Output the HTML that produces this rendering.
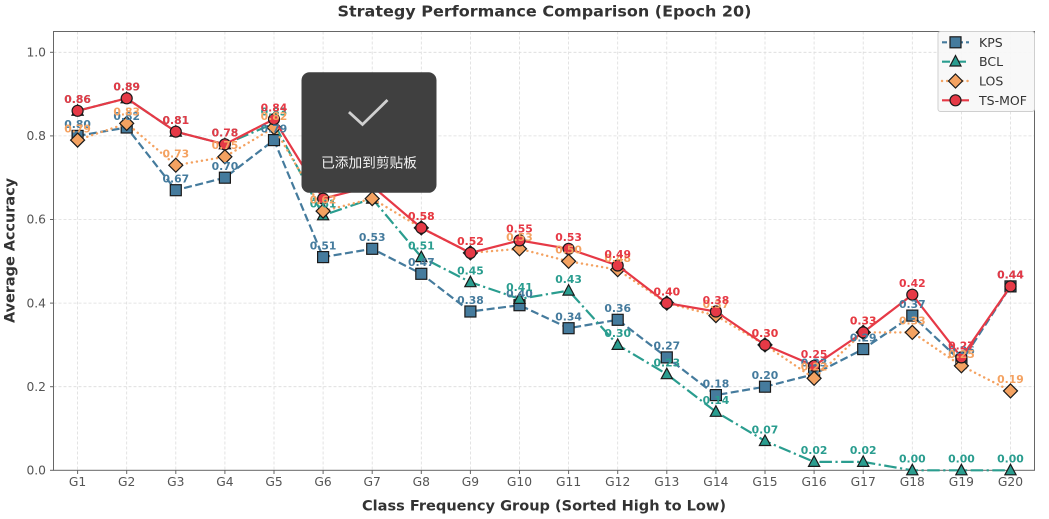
<!DOCTYPE html>
<html><head><meta charset="utf-8"><style>
html,body{margin:0;padding:0;background:#fff;}
svg{display:block;}
.tk{font-family:"DejaVu Sans","Liberation Sans",sans-serif;font-size:12.3px;fill:#555;}
.lb{font-family:"DejaVu Sans","Liberation Sans",sans-serif;font-size:10.8px;font-weight:bold;text-anchor:middle;}
</style></head><body>
<svg width="1049" height="519" viewBox="0 0 1049 519" xmlns="http://www.w3.org/2000/svg">
<rect width="1049" height="519" fill="#fff"/>
<!-- grid -->
<g stroke="#dcdcdc" stroke-width="0.8" stroke-dasharray="3,2">
<line x1="53.5" x2="1034.5" y1="386.7" y2="386.7"/>
<line x1="53.5" x2="1034.5" y1="303.1" y2="303.1"/>
<line x1="53.5" x2="1034.5" y1="219.5" y2="219.5"/>
<line x1="53.5" x2="1034.5" y1="135.9" y2="135.9"/>
<line x1="53.5" x2="1034.5" y1="52.3" y2="52.3"/>
<line x1="77.6" x2="77.6" y1="31.5" y2="470.3"/>
<line x1="126.7" x2="126.7" y1="31.5" y2="470.3"/>
<line x1="175.8" x2="175.8" y1="31.5" y2="470.3"/>
<line x1="224.9" x2="224.9" y1="31.5" y2="470.3"/>
<line x1="274.0" x2="274.0" y1="31.5" y2="470.3"/>
<line x1="323.1" x2="323.1" y1="31.5" y2="470.3"/>
<line x1="372.2" x2="372.2" y1="31.5" y2="470.3"/>
<line x1="421.3" x2="421.3" y1="31.5" y2="470.3"/>
<line x1="470.4" x2="470.4" y1="31.5" y2="470.3"/>
<line x1="519.5" x2="519.5" y1="31.5" y2="470.3"/>
<line x1="568.6" x2="568.6" y1="31.5" y2="470.3"/>
<line x1="617.7" x2="617.7" y1="31.5" y2="470.3"/>
<line x1="666.8" x2="666.8" y1="31.5" y2="470.3"/>
<line x1="715.9" x2="715.9" y1="31.5" y2="470.3"/>
<line x1="765.0" x2="765.0" y1="31.5" y2="470.3"/>
<line x1="814.1" x2="814.1" y1="31.5" y2="470.3"/>
<line x1="863.2" x2="863.2" y1="31.5" y2="470.3"/>
<line x1="912.3" x2="912.3" y1="31.5" y2="470.3"/>
<line x1="961.4" x2="961.4" y1="31.5" y2="470.3"/>
<line x1="1010.5" x2="1010.5" y1="31.5" y2="470.3"/>
</g>
<!-- spines -->
<rect x="53.5" y="31.5" width="981" height="438.8" fill="none" stroke="#666" stroke-width="1"/>
<!-- ticks -->
<g stroke="#666" stroke-width="1">
<line x1="50" x2="53.5" y1="470.3" y2="470.3"/><line x1="50" x2="53.5" y1="386.7" y2="386.7"/><line x1="50" x2="53.5" y1="303.1" y2="303.1"/><line x1="50" x2="53.5" y1="219.5" y2="219.5"/><line x1="50" x2="53.5" y1="135.9" y2="135.9"/><line x1="50" x2="53.5" y1="52.3" y2="52.3"/>
<line x1="77.6" x2="77.6" y1="470.3" y2="474"/><line x1="126.7" x2="126.7" y1="470.3" y2="474"/><line x1="175.8" x2="175.8" y1="470.3" y2="474"/><line x1="224.9" x2="224.9" y1="470.3" y2="474"/><line x1="274.0" x2="274.0" y1="470.3" y2="474"/><line x1="323.1" x2="323.1" y1="470.3" y2="474"/><line x1="372.2" x2="372.2" y1="470.3" y2="474"/><line x1="421.3" x2="421.3" y1="470.3" y2="474"/><line x1="470.4" x2="470.4" y1="470.3" y2="474"/><line x1="519.5" x2="519.5" y1="470.3" y2="474"/><line x1="568.6" x2="568.6" y1="470.3" y2="474"/><line x1="617.7" x2="617.7" y1="470.3" y2="474"/><line x1="666.8" x2="666.8" y1="470.3" y2="474"/><line x1="715.9" x2="715.9" y1="470.3" y2="474"/><line x1="765.0" x2="765.0" y1="470.3" y2="474"/><line x1="814.1" x2="814.1" y1="470.3" y2="474"/><line x1="863.2" x2="863.2" y1="470.3" y2="474"/><line x1="912.3" x2="912.3" y1="470.3" y2="474"/><line x1="961.4" x2="961.4" y1="470.3" y2="474"/><line x1="1010.5" x2="1010.5" y1="470.3" y2="474"/>
</g>
<g class="tk" text-anchor="end">
<text x="46" y="474.5">0.0</text><text x="46" y="390.9">0.2</text><text x="46" y="307.3">0.4</text><text x="46" y="223.7">0.6</text><text x="46" y="140.1">0.8</text><text x="46" y="56.5">1.0</text>
</g>
<g class="tk" text-anchor="middle">
<text x="77.6" y="486">G1</text><text x="126.7" y="486">G2</text><text x="175.8" y="486">G3</text><text x="224.9" y="486">G4</text><text x="274.0" y="486">G5</text><text x="323.1" y="486">G6</text><text x="372.2" y="486">G7</text><text x="421.3" y="486">G8</text><text x="470.4" y="486">G9</text><text x="519.5" y="486">G10</text><text x="568.6" y="486">G11</text><text x="617.7" y="486">G12</text><text x="666.8" y="486">G13</text><text x="715.9" y="486">G14</text><text x="765.0" y="486">G15</text><text x="814.1" y="486">G16</text><text x="863.2" y="486">G17</text><text x="912.3" y="486">G18</text><text x="961.4" y="486">G19</text><text x="1010.5" y="486">G20</text>
</g>
<!-- titles -->
<text x="544.5" y="16.7" text-anchor="middle" font-family="DejaVu Sans, Liberation Sans, sans-serif" font-weight="bold" font-size="15" fill="#333" textLength="414" lengthAdjust="spacingAndGlyphs">Strategy Performance Comparison (Epoch 20)</text>
<text x="544" y="510.7" text-anchor="middle" font-family="DejaVu Sans, Liberation Sans, sans-serif" font-weight="bold" font-size="14.5" fill="#333" textLength="364" lengthAdjust="spacingAndGlyphs">Class Frequency Group (Sorted High to Low)</text>
<text transform="translate(14.5,250.5) rotate(-90)" text-anchor="middle" font-family="DejaVu Sans, Liberation Sans, sans-serif" font-weight="bold" font-size="14.5" fill="#333" textLength="145" lengthAdjust="spacingAndGlyphs">Average Accuracy</text>

<defs>
<rect id="sq" x="-5.5" y="-5.5" width="11" height="11" fill="#457b9d" stroke="#1a1a1a" stroke-width="1.2"/>
<path id="tri" d="M0,-6 L5.6,4.5 L-5.6,4.5 Z" fill="#2a9d8f" stroke="#1a1a1a" stroke-width="1.2"/>
<path id="dia" d="M0,-7 L7,0 L0,7 L-7,0 Z" fill="#f4a261" stroke="#1a1a1a" stroke-width="1.2"/>
<circle id="cir" r="5.5" fill="#e63946" stroke="#1a1a1a" stroke-width="1.2"/>
</defs>

<!-- KPS -->
<polyline fill="none" stroke="#457b9d" stroke-width="2.2" stroke-dasharray="8,3.5" points="77.6,135.9 126.7,127.5 175.8,190.2 224.9,177.7 274.0,140.1 323.1,257.1 372.2,248.8 421.3,273.8 470.4,311.5 519.5,305.2 568.6,328.2 617.7,319.8 666.8,357.4 715.9,395.1 765.0,386.7 814.1,374.2 863.2,349.1 912.3,315.6 961.4,361.6 1010.5,286.4"/>
<g>
<use href="#sq" x="77.6" y="135.9"/><use href="#sq" x="126.7" y="127.5"/><use href="#sq" x="175.8" y="190.2"/><use href="#sq" x="224.9" y="177.7"/><use href="#sq" x="274.0" y="140.1"/><use href="#sq" x="323.1" y="257.1"/><use href="#sq" x="372.2" y="248.8"/><use href="#sq" x="421.3" y="273.8"/><use href="#sq" x="470.4" y="311.5"/><use href="#sq" x="519.5" y="305.2"/><use href="#sq" x="568.6" y="328.2"/><use href="#sq" x="617.7" y="319.8"/><use href="#sq" x="666.8" y="357.4"/><use href="#sq" x="715.9" y="395.1"/><use href="#sq" x="765.0" y="386.7"/><use href="#sq" x="814.1" y="374.2"/><use href="#sq" x="863.2" y="349.1"/><use href="#sq" x="912.3" y="315.6"/><use href="#sq" x="961.4" y="361.6"/><use href="#sq" x="1010.5" y="286.4"/>
</g>
<!-- BCL -->
<polyline fill="none" stroke="#2a9d8f" stroke-width="2.2" stroke-dasharray="12.5,3.5,2.2,3.5" points="77.6,110.8 126.7,98.3 175.8,131.7 224.9,144.3 274.0,123.4 323.1,215.3 372.2,198.6 421.3,257.1 470.4,282.2 519.5,298.9 568.6,290.6 617.7,344.9 666.8,374.2 715.9,411.8 765.0,441.0 814.1,461.9 863.2,461.9 912.3,470.3 961.4,470.3 1010.5,470.3"/>
<g>
<use href="#tri" x="77.6" y="110.8"/><use href="#tri" x="126.7" y="98.3"/><use href="#tri" x="175.8" y="131.7"/><use href="#tri" x="224.9" y="144.3"/><use href="#tri" x="274.0" y="123.4"/><use href="#tri" x="323.1" y="215.3"/><use href="#tri" x="372.2" y="198.6"/><use href="#tri" x="421.3" y="257.1"/><use href="#tri" x="470.4" y="282.2"/><use href="#tri" x="519.5" y="298.9"/><use href="#tri" x="568.6" y="290.6"/><use href="#tri" x="617.7" y="344.9"/><use href="#tri" x="666.8" y="374.2"/><use href="#tri" x="715.9" y="411.8"/><use href="#tri" x="765.0" y="441.0"/><use href="#tri" x="814.1" y="461.9"/><use href="#tri" x="863.2" y="461.9"/><use href="#tri" x="912.3" y="470.3"/><use href="#tri" x="961.4" y="470.3"/><use href="#tri" x="1010.5" y="470.3"/>
</g>
<!-- LOS -->
<polyline fill="none" stroke="#f4a261" stroke-width="2.4" stroke-linecap="round" stroke-dasharray="0.1,5" points="77.6,140.1 126.7,123.4 175.8,165.2 224.9,156.8 274.0,127.5 323.1,211.1 372.2,198.6 421.3,227.9 470.4,252.9 519.5,248.8 568.6,261.3 617.7,269.7 666.8,303.1 715.9,315.6 765.0,344.9 814.1,378.3 863.2,332.4 912.3,332.4 961.4,365.8 1010.5,390.9"/>
<g>
<use href="#dia" x="77.6" y="140.1"/><use href="#dia" x="126.7" y="123.4"/><use href="#dia" x="175.8" y="165.2"/><use href="#dia" x="224.9" y="156.8"/><use href="#dia" x="274.0" y="127.5"/><use href="#dia" x="323.1" y="211.1"/><use href="#dia" x="372.2" y="198.6"/><use href="#dia" x="421.3" y="227.9"/><use href="#dia" x="470.4" y="252.9"/><use href="#dia" x="519.5" y="248.8"/><use href="#dia" x="568.6" y="261.3"/><use href="#dia" x="617.7" y="269.7"/><use href="#dia" x="666.8" y="303.1"/><use href="#dia" x="715.9" y="315.6"/><use href="#dia" x="765.0" y="344.9"/><use href="#dia" x="814.1" y="378.3"/><use href="#dia" x="863.2" y="332.4"/><use href="#dia" x="912.3" y="332.4"/><use href="#dia" x="961.4" y="365.8"/><use href="#dia" x="1010.5" y="390.9"/>
</g>
<!-- TS-MOF -->
<polyline fill="none" stroke="#e63946" stroke-width="2.2" points="77.6,110.8 126.7,98.3 175.8,131.7 224.9,144.3 274.0,119.2 323.1,198.6 372.2,186.1 421.3,227.9 470.4,252.9 519.5,240.4 568.6,248.8 617.7,265.5 666.8,303.1 715.9,311.5 765.0,344.9 814.1,365.8 863.2,332.4 912.3,294.7 961.4,357.4 1010.5,286.4"/>
<g>
<use href="#cir" x="77.6" y="110.8"/><use href="#cir" x="126.7" y="98.3"/><use href="#cir" x="175.8" y="131.7"/><use href="#cir" x="224.9" y="144.3"/><use href="#cir" x="274.0" y="119.2"/><use href="#cir" x="323.1" y="198.6"/><use href="#cir" x="372.2" y="186.1"/><use href="#cir" x="421.3" y="227.9"/><use href="#cir" x="470.4" y="252.9"/><use href="#cir" x="519.5" y="240.4"/><use href="#cir" x="568.6" y="248.8"/><use href="#cir" x="617.7" y="265.5"/><use href="#cir" x="666.8" y="303.1"/><use href="#cir" x="715.9" y="311.5"/><use href="#cir" x="765.0" y="344.9"/><use href="#cir" x="814.1" y="365.8"/><use href="#cir" x="863.2" y="332.4"/><use href="#cir" x="912.3" y="294.7"/><use href="#cir" x="961.4" y="357.4"/><use href="#cir" x="1010.5" y="286.4"/>
</g>

<!-- labels KPS -->
<g class="lb" fill="#457b9d">
<text x="77.6" y="128.2">0.80</text><text x="126.7" y="119.8">0.82</text><text x="175.8" y="182.5">0.67</text><text x="224.9" y="170">0.70</text><text x="274.0" y="132.4">0.79</text><text x="323.1" y="249.4">0.51</text><text x="372.2" y="241.1">0.53</text><text x="421.3" y="266.1">0.47</text><text x="470.4" y="303.8">0.38</text><text x="519.5" y="297.5">0.40</text><text x="568.6" y="320.5">0.34</text><text x="617.7" y="312.1">0.36</text><text x="666.8" y="349.7">0.27</text><text x="715.9" y="387.4">0.18</text><text x="765.0" y="379">0.20</text><text x="814.1" y="366.5">0.23</text><text x="863.2" y="341.4">0.29</text><text x="912.3" y="307.9">0.37</text><text x="961.4" y="353.9">0.26</text><text x="1010.5" y="278.7">0.44</text>
</g>
<g class="lb" fill="#2a9d8f">
<text x="77.6" y="103.1">0.86</text><text x="126.7" y="90.6">0.89</text><text x="175.8" y="124">0.81</text><text x="224.9" y="136.6">0.78</text><text x="274.0" y="115.7">0.83</text><text x="323.1" y="207.6">0.61</text><text x="372.2" y="190.9">0.65</text><text x="421.3" y="249.4">0.51</text><text x="470.4" y="274.5">0.45</text><text x="519.5" y="291.2">0.41</text><text x="568.6" y="282.9">0.43</text><text x="617.7" y="337.2">0.30</text><text x="666.8" y="366.5">0.23</text><text x="715.9" y="404.1">0.14</text><text x="765.0" y="433.3">0.07</text><text x="814.1" y="454.2">0.02</text><text x="863.2" y="454.2">0.02</text><text x="912.3" y="462.6">0.00</text><text x="961.4" y="462.6">0.00</text><text x="1010.5" y="462.6">0.00</text>
</g>
<g class="lb" fill="#f4a261">
<text x="77.6" y="132.4">0.79</text><text x="126.7" y="115.7">0.83</text><text x="175.8" y="157.5">0.73</text><text x="224.9" y="149.1">0.75</text><text x="274.0" y="119.8">0.82</text><text x="323.1" y="203.4">0.62</text><text x="372.2" y="190.9">0.65</text><text x="421.3" y="220.2">0.58</text><text x="470.4" y="245.2">0.52</text><text x="519.5" y="241.1">0.53</text><text x="568.6" y="253.6">0.50</text><text x="617.7" y="262">0.48</text><text x="666.8" y="295.4">0.40</text><text x="715.9" y="307.9">0.37</text><text x="765.0" y="337.2">0.30</text><text x="814.1" y="370.6">0.22</text><text x="863.2" y="324.7">0.33</text><text x="912.3" y="324.7">0.33</text><text x="961.4" y="358.1">0.25</text><text x="1010.5" y="383.2">0.19</text>
</g>
<g class="lb" fill="#e63946">
<text x="77.6" y="103.1">0.86</text><text x="126.7" y="90.6">0.89</text><text x="175.8" y="124">0.81</text><text x="224.9" y="136.6">0.78</text><text x="274.0" y="111.5">0.84</text><text x="323.1" y="190.9">0.65</text><text x="372.2" y="178.4">0.68</text><text x="421.3" y="220.2">0.58</text><text x="470.4" y="245.2">0.52</text><text x="519.5" y="232.7">0.55</text><text x="568.6" y="241.1">0.53</text><text x="617.7" y="257.8">0.49</text><text x="666.8" y="295.4">0.40</text><text x="715.9" y="303.8">0.38</text><text x="765.0" y="337.2">0.30</text><text x="814.1" y="358.1">0.25</text><text x="863.2" y="324.7">0.33</text><text x="912.3" y="287">0.42</text><text x="961.4" y="349.7">0.27</text><text x="1010.5" y="278.7">0.44</text>
</g>

<!-- legend -->
<rect x="938" y="31.5" width="96.5" height="80" rx="2.5" fill="#f7f7f7" fill-opacity="0.92" stroke="#cfcfcf" stroke-width="1"/>
<g>
<line x1="942" x2="969" y1="42.3" y2="42.3" stroke="#457b9d" stroke-width="2.2" stroke-dasharray="5,3"/>
<rect x="950" y="36.8" width="11" height="11" fill="#457b9d" stroke="#1a1a1a" stroke-width="1.2"/>
<line x1="942" x2="969" y1="61.7" y2="61.7" stroke="#2a9d8f" stroke-width="2.2" stroke-dasharray="8,3,2,3"/>
<path d="M955.5,55.5 L961,66 L950,66 Z" fill="#2a9d8f" stroke="#1a1a1a" stroke-width="1.2"/>
<line x1="942" x2="969" y1="81" y2="81" stroke="#f4a261" stroke-width="2.4" stroke-linecap="round" stroke-dasharray="0.1,5"/>
<path d="M955.5,74 L962.5,81 L955.5,88 L948.5,81 Z" fill="#f4a261" stroke="#1a1a1a" stroke-width="1.2"/>
<line x1="942" x2="969" y1="100.3" y2="100.3" stroke="#e63946" stroke-width="2.2"/>
<circle cx="955.5" cy="100.3" r="5.5" fill="#e63946" stroke="#1a1a1a" stroke-width="1.2"/>
</g>
<g font-family="DejaVu Sans, Liberation Sans, sans-serif" font-size="12.5" fill="#333">
<text x="979" y="46.8">KPS</text><text x="979" y="66.2">BCL</text><text x="979" y="85.5">LOS</text><text x="979" y="104.8">TS-MOF</text>
</g>

<!-- toast -->
<rect x="301.5" y="72.3" width="135" height="120.5" rx="8" fill="#404040"/>
<polyline points="350,113 362.5,124.5 386.5,101" fill="none" stroke="#d0d0d0" stroke-width="2.8" stroke-linecap="square"/>
<text x="369" y="167.5" text-anchor="middle" font-family="Noto Sans CJK SC, WenQuanYi Zen Hei, sans-serif" font-size="13.7" fill="#f2f2f2">已添加到剪贴板</text>
</svg>
</body></html>
